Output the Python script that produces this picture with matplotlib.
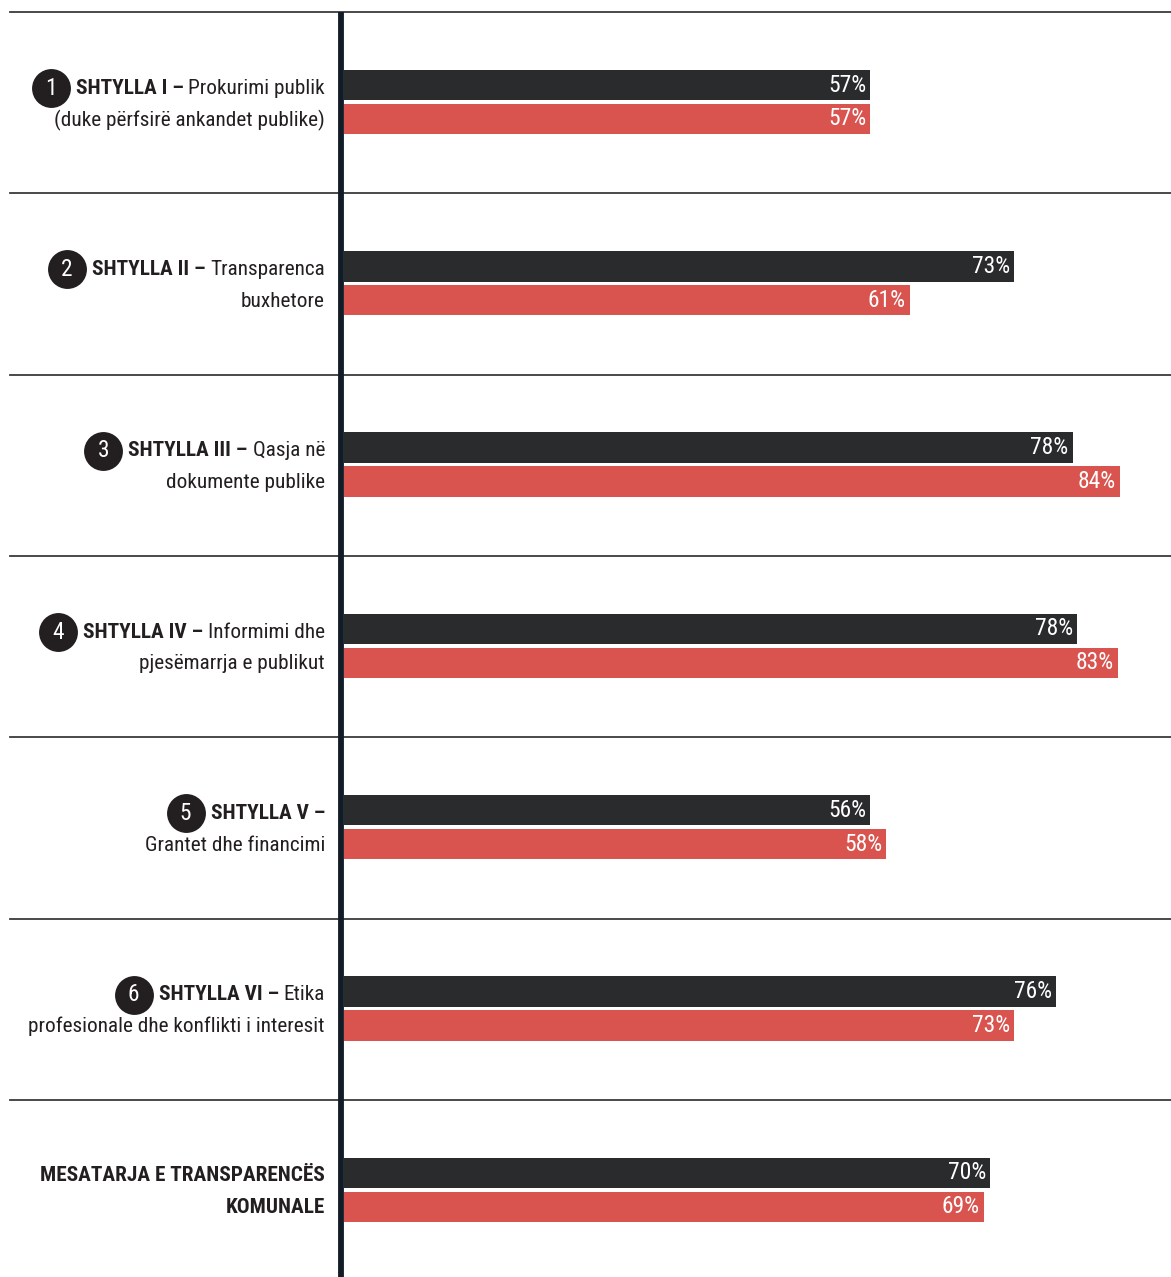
import matplotlib
matplotlib.use("Agg")
import matplotlib.pyplot as plt
from matplotlib import transforms
from matplotlib import font_manager as fm
from matplotlib.lines import Line2D

# values, labels as printed
pillars = ["1", "2", "3", "4", "5", "6", ""]
bold_part = ["SHTYLLA I – ", "SHTYLLA II – ", "SHTYLLA III – ", "SHTYLLA IV – ",
             "SHTYLLA V –", "SHTYLLA VI – ", "MESATARJA E TRANSPARENCËS"]
regular_part = ["Prokurimi publik", "Transparenca", "Qasja në", "Informimi dhe",
                "", "Etika", ""]
second_line = ["(duke përfsirë ankandet publike)", "buxhetore", "dokumente publike",
               "pjesëmarrja e publikut", "Grantet dhe financimi",
               "profesionale dhe konflikti i interesit", "KOMUNALE"]
second_bold = [False, False, False, False, False, False, True]

dark_values = [57.0, 72.6, 78.9, 79.4, 57.0, 77.1, 70.0]
red_values = [57.0, 61.3, 84.0, 83.8, 58.7, 72.6, 69.3]
dark_labels = ["57%", "73%", "78%", "78%", "56%", "76%", "70%"]
red_labels = ["57%", "61%", "84%", "83%", "58%", "73%", "69%"]

W, H = 1171, 1277
ROW = 181.3
TOP = 12
X0 = 344
SCALE = 9.235  # px per percent

DARK = "#2a2b2d"
RED = "#d9534f"
INK = "#231f20"


def pick_font():
    names = {f.name for f in fm.fontManager.ttflist}
    for name in ["Liberation Sans Narrow", "Roboto Condensed", "Open Sans Condensed",
                 "Noto Sans Condensed", "DejaVu Sans Condensed"]:
        if name in names:
            return name, "normal"
    for f in fm.fontManager.ttflist:
        if f.name in ("Roboto", "Noto Sans", "Open Sans", "DejaVu Sans") and \
                str(f.stretch) in ("condensed", "semi-condensed"):
            return f.name, str(f.stretch)
    return "Roboto", "normal"


FAM, STRETCH = pick_font()
FONT = [FAM, "DejaVu Sans"]

fig = plt.figure(figsize=(W / 100, H / 100), dpi=100)
renderer = fig.canvas.get_renderer()


def width_at(text, size, weight="normal"):
    t = fig.text(0, 0, text, fontsize=size, family=FONT, fontweight=weight,
                 fontstretch=STRETCH)
    w = t.get_window_extent(renderer).width
    t.remove()
    return w


# fit the font sizes to the widths of the printed texts
fs = min(16.5,
         10 * 295 / width_at("profesionale dhe konflikti i interesit", 10),
         10 * 298 / width_at("MESATARJA E TRANSPARENCËS", 10, "bold"),
         10 * 139 / width_at("Prokurimi publik", 10))
fs_pct = min(17, 10 * 38 / width_at("57%", 10))

ax = fig.add_axes([X0 / W, 0, 1 - X0 / W, 1])
ax.set_xlim(0, (W - X0) / SCALE)
ax.set_ylim((H - TOP) / ROW, -TOP / ROW)
ax.axis("off")

n = len(dark_values)
ys = list(range(n))
ax.barh([y + 0.403 for y in ys], dark_values, height=0.168, color=DARK)
ax.barh([y + 0.590 for y in ys], red_values, height=0.168, color=RED)

for i in range(n):
    ax.text(dark_values[i] - 0.45, i + 0.403, dark_labels[i], ha="right", va="center",
            color="white", fontsize=fs_pct, family=FONT, fontstretch=STRETCH)
    ax.text(red_values[i] - 0.45, i + 0.590, red_labels[i], ha="right", va="center",
            color="white", fontsize=fs_pct, family=FONT, fontstretch=STRETCH)

blend = transforms.blended_transform_factory(fig.transFigure, ax.transData)

# separator lines and the axis line
for i in range(n):
    fig.add_artist(Line2D([10 / W, 1], [i, i], transform=blend, color="#3a3a3a", lw=1.3))
fig.add_artist(Line2D([341 / W, 341 / W], [0, n + 0.1], transform=blend,
                      color="#111c26", lw=4.2, solid_capstyle="butt"))

right = 325 / W
for i in range(n):
    y1 = i + 0.42
    y2 = i + 0.596
    x = right
    if regular_part[i]:
        t = ax.text(x, y1, regular_part[i], transform=blend, ha="right", va="center",
                    fontsize=fs, color=INK, family=FONT, fontstretch=STRETCH)
        bb = t.get_window_extent(renderer)
        x = bb.x0 / W
    t = ax.text(x, y1, bold_part[i], transform=blend, ha="right", va="center",
                fontsize=fs, color=INK, family=FONT, fontweight="bold",
                fontstretch=STRETCH)
    bb = t.get_window_extent(renderer)
    if pillars[i]:
        cx = (bb.x0 - 6 - 19) / W
        ax.plot([cx], [y1], transform=blend, marker="o", ms=28, color=INK,
                clip_on=False, mew=0)
        ax.text(cx, y1, pillars[i], transform=blend, ha="center", va="center",
                fontsize=fs + 1.5, color="white", family=FONT, fontstretch=STRETCH)
    ax.text(right, y2, second_line[i], transform=blend, ha="right", va="center",
            fontsize=fs, color=INK, family=FONT, fontstretch=STRETCH,
            fontweight="bold" if second_bold[i] else "normal")

fig.savefig("out.png", dpi=100)
